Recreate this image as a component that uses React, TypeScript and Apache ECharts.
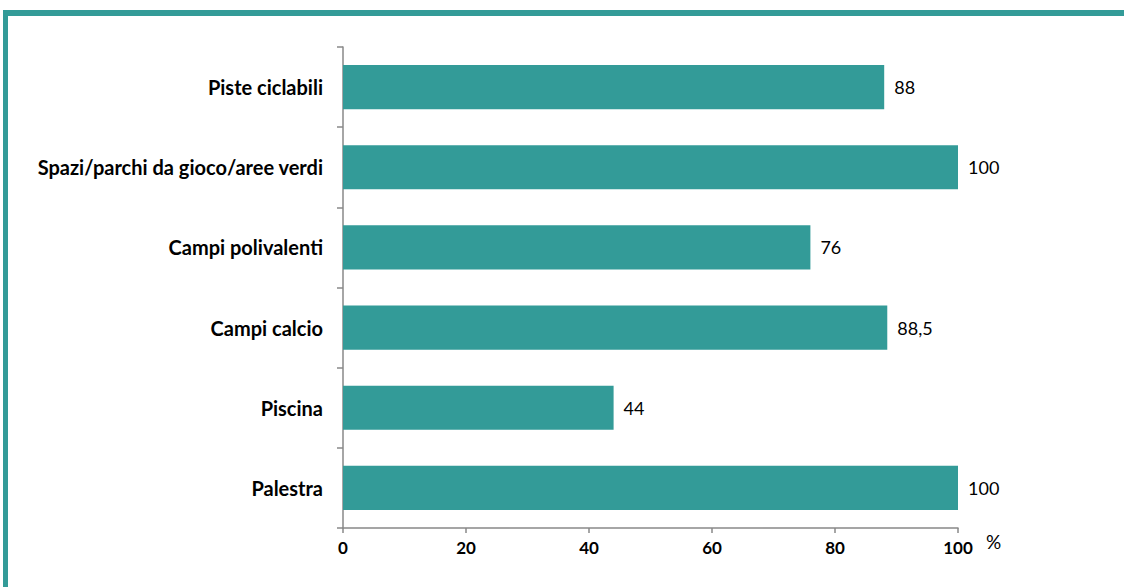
import React, { useEffect, useRef } from "react";
import * as echarts from "echarts";

const categories = [
  "Palestra",
  "Piscina",
  "Campi calcio",
  "Campi polivalenti",
  "Spazi/parchi da gioco/aree verdi",
  "Piste ciclabili",
];
const values = [100, 44, 88.5, 76, 100, 88];
const xTicks = { min: 0, max: 100, interval: 20 };

const TEAL = "#339b98";
const FONT = "Lato, 'Open Sans', sans-serif";

export default function App() {
  const ref = useRef<HTMLDivElement>(null);
  useEffect(() => {
    if (!ref.current) return;
    const chart = echarts.init(ref.current, undefined, { renderer: "svg" });
    chart.setOption({
      animation: false,
      backgroundColor: "#ffffff",
      grid: { left: 343, right: 166, top: 47, bottom: 59, containLabel: false },
      xAxis: {
        type: "value",
        min: xTicks.min,
        max: xTicks.max,
        interval: xTicks.interval,
        splitLine: { show: false },
        axisLine: { show: true, lineStyle: { color: "#888888", width: 1.5 } },
        axisTick: { show: true, length: 5, lineStyle: { color: "#888888", width: 1.5 } },
        axisLabel: {
          color: "#000000",
          fontFamily: FONT,
          fontWeight: "bold",
          fontSize: 17,
          margin: 11,
        },
      },
      yAxis: {
        type: "category",
        data: categories,
        axisLine: { show: true, lineStyle: { color: "#888888", width: 1.5 } },
        axisTick: { show: true, length: 6, lineStyle: { color: "#888888", width: 1.5 } },
        axisLabel: {
          color: "#000000",
          fontFamily: FONT,
          fontWeight: "bold",
          fontSize: 20,
          margin: 20,
        },
      },
      series: [
        {
          type: "bar",
          data: values,
          barCategoryGap: "45%",
          itemStyle: { color: TEAL },
          label: {
            show: true,
            position: "right",
            distance: 10,
            color: "#000000",
            fontFamily: FONT,
            fontSize: 18,
            formatter: (p: any) => String(p.value).replace(".", ","),
          },
        },
      ],
      graphic: [
        {
          type: "rect",
          shape: { x: 3, y: 10, width: 1121, height: 6 },
          style: { fill: TEAL },
          silent: true,
        },
        {
          type: "rect",
          shape: { x: 3, y: 10, width: 5, height: 577 },
          style: { fill: TEAL },
          silent: true,
        },
        {
          type: "text",
          x: 986,
          y: 532,
          style: {
            text: "%",
            fill: "#000000",
            font: `19px ${FONT}`,
          },
          silent: true,
        },
      ],
    });
    return () => chart.dispose();
  }, []);
  return (
    <div
      ref={ref}
      style={{ position: "fixed", left: 0, top: 0, width: 1124, height: 587 }}
    />
  );
}
